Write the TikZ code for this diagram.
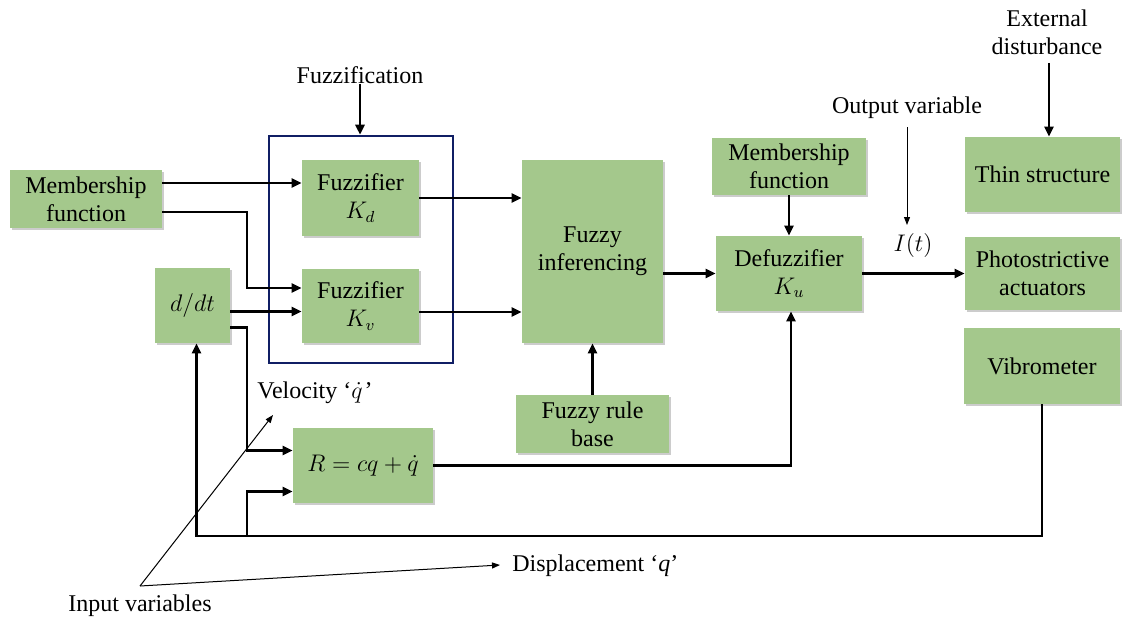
\documentclass[tikz,border=0pt]{standalone}
\usepackage{fontspec}
\setmainfont{Liberation Serif}
\usetikzlibrary{arrows.meta,shadows,calc}
\definecolor{boxgreen}{RGB}{164,200,140}
\definecolor{navyline}{RGB}{16,30,100}
\begin{document}
\begin{tikzpicture}[x=0.5pt,y=-0.5pt, font=\fontsize{12}{14}\selectfont,
  blk/.style={fill=boxgreen, align=center, inner sep=0pt,
    drop shadow={shadow xshift=1pt,shadow yshift=-1pt,opacity=0.4}},
  arr/.style={line width=1.25pt, -{Triangle[length=5pt,width=4.5pt]}},
  ln/.style={line width=1.25pt},
  tarr/.style={line width=0.5pt, -{Triangle[length=4pt,width=3pt]}},
  lbl/.style={inner sep=0pt, align=center}]
\useasboundingbox (0,0) rectangle (1124,626);

% fuzzification frame
\node[draw=navyline, line width=1.25pt, minimum width=92pt, minimum height=113.5pt, inner sep=0pt] (fzbox) at (361,249.5) {};

% blocks
\node[blk, minimum width=76pt, minimum height=29pt] (mf1) at (86,199) {Membership\\function};
\node[blk, minimum width=37.5pt, minimum height=37.5pt] (ddt) at (192.5,305.5) {$d/dt$};
\node[blk, minimum width=58.5pt, minimum height=38pt] (kd) at (360.5,198) {Fuzzifier\\$K_d$};
\node[blk, minimum width=58.5pt, minimum height=37pt] (kv) at (360.5,306) {Fuzzifier\\$K_v$};
\node[blk, minimum width=70.5pt, minimum height=91.5pt] (inf) at (592.5,251.5) {Fuzzy\\inferencing};
\node[blk, minimum width=76.5pt, minimum height=29pt] (rule) at (592.5,424) {Fuzzy rule\\base};
\node[blk, minimum width=77pt, minimum height=28.5pt] (mf2) at (789,166.5) {Membership\\function};
\node[blk, minimum width=73pt, minimum height=37.5pt] (defz) at (789,273.5) {Defuzzifier\\$K_u$};
\node[blk, minimum width=77.5pt, minimum height=37.5pt] (thin) at (1042.5,174.5) {Thin structure};
\node[blk, minimum width=77.5pt, minimum height=36.5pt] (photo) at (1042.5,273.5) {Photostrictive\\actuators};
\node[blk, minimum width=78pt, minimum height=38pt] (vib) at (1042,366) {Vibrometer};
\node[blk, minimum width=70pt, minimum height=37.5pt] (R) at (363,465.5) {$R = cq + \dot{q}$};

% labels
\node[lbl] (fz) at (360,75) {Fuzzification};
\node[lbl] (outv) at (907,108) {Output variable};
\node[lbl] (it) at (913,245) {$I(t)$};
\node[lbl] (ext) at (1047,32) {External\\disturbance};
\node[lbl, anchor=west] (vel) at (257,393) {Velocity ‘$\dot{q}$\kern1pt’};
\node[lbl, anchor=west] (disp) at (512,566) {Displacement ‘\textit{q}’};
\node[lbl] (inp) at (140,606) {Input variables};

% helper coordinates
\coordinate (j1) at (247,250);
\coordinate (j2) at (247,400);
\coordinate (j3) at (247,536);
\coordinate (fb) at (600,536);
\coordinate (apex) at (140,586);
\coordinate (velend) at (273,415);
\coordinate (dispend) at (500,565);
\coordinate (outend) at (907,225);

% connectors
\draw[arr] (fz.south) -- (fz.south |- fzbox.north);
\draw[arr] ([yshift=8pt]mf1.east) -- ([yshift=8pt]mf1.east -| kd.west);
\draw[arr] ([yshift=-6.5pt]mf1.east) -| (j1) |- ([yshift=9pt]kv.west);
\draw[arr] ([yshift=-3pt]ddt.east) -- ([yshift=-3pt]ddt.east -| kv.west);
\draw[arr] ([yshift=-11pt]ddt.east) -| (j2) |- ([yshift=7.5pt]R.west);
\draw[arr] (vib.south) |- (fb) -| ([xshift=2pt]ddt.south);
\draw[arr] (j3) |- ([yshift=-13pt]R.west);
\draw[arr] (R.east) -| ([xshift=1pt]defz.south);
\draw[arr] (kd.east) -- (kd.east -| inf.west);
\draw[arr] ([yshift=-3pt]kv.east) -- ([yshift=-3pt]kv.east -| inf.west);
\draw[arr] (inf.east |- defz.west) -- (defz.west);
\draw[arr] (rule.north) -- (inf.south);
\draw[arr] (mf2.south) -- (defz.north);
\draw[arr] (defz.east) -- (photo.west);
\draw[arr] ([xshift=1pt,yshift=-4pt]ext.south) -- ([xshift=1pt]ext.south |- thin.north);
\draw[tarr] ([yshift=-4pt]outv.south) -- (outend);
\draw[tarr] (apex) -- (velend);
\draw[tarr] (apex) -- (dispend);
\end{tikzpicture}
\end{document}
